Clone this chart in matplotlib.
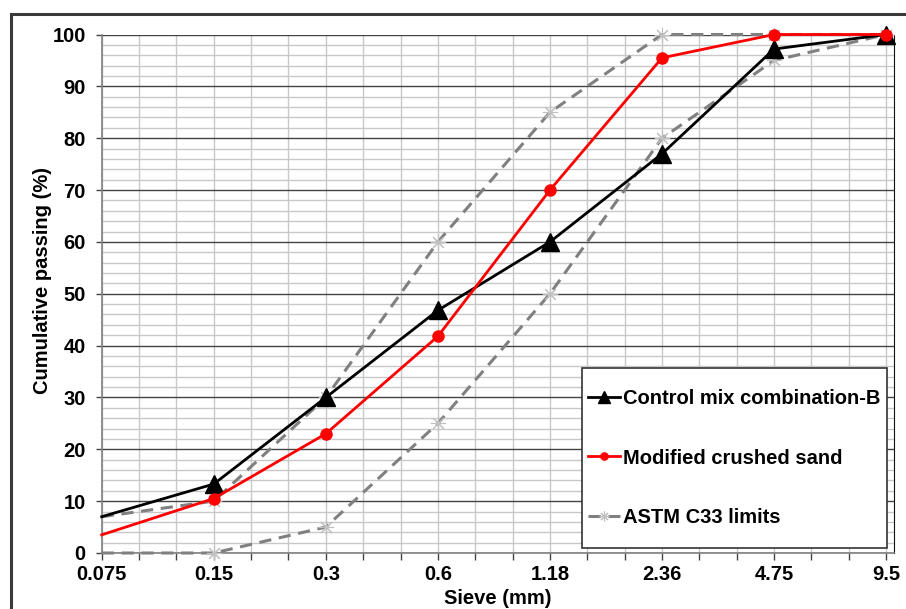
import numpy as np
import matplotlib.pyplot as plt
from matplotlib.patches import Rectangle

plt.rcParams['font.family'] = ['Liberation Sans', 'DejaVu Sans']
plt.rcParams['font.weight'] = 'bold'

# Sieve sizes (equally spaced categories)
sieves = ["0.075", "0.15", "0.3", "0.6", "1.18", "2.36", "4.75", "9.5"]

# Cumulative passing (%)
control_b = [7, 13.3, 30, 46.8, 60, 77, 97.2, 100]
modified_sand = [3.5, 10.5, 23, 41.8, 70, 95.5, 100, 100]
astm_upper = [7, 10, 30, 60, 85, 100, 100, 100]
astm_lower = [0, 0, 5, 25, 50, 80, 95, 100]

x = np.arange(len(sieves))
W, H = 906, 609

fig = plt.figure(figsize=(9.06, 6.09), dpi=100)
ax = fig.add_axes([101.7 / W, 56 / H, 792.3 / W, 518.5 / H])

# outer chart frame
fig.patches.append(Rectangle((11 / W, -0.05), 1.0, (H - 14) / H + 0.05,
                             transform=fig.transFigure, fill=False,
                             edgecolor="#3a3a3a", linewidth=2.2))

# grid
ax.set_xlim(0, 7.07)
ax.set_ylim(0, 100)
ax.set_xticks(x)
ax.set_xticklabels(sieves)
ax.set_xticks(np.arange(0, 7.01, 1 / 3), minor=True)
ax.set_yticks(np.arange(0, 101, 10))
ax.set_yticks(np.arange(0, 101, 2), minor=True)
ax.grid(which="minor", color="#c8c8c8", linewidth=1.0)
ax.grid(which="major", axis="x", color="#c8c8c8", linewidth=1.0)
ax.grid(which="major", axis="y", color="#444444", linewidth=1.0)
ax.set_axisbelow(True)

ax.tick_params(axis="y", which="major", length=4.5, width=1, color="#444444",
               labelsize=14.5, pad=7)
ax.tick_params(axis="y", which="minor", length=0)
ax.tick_params(axis="x", which="both", length=5, width=1, color="#444444",
               labelsize=14.5, pad=4)
for lab in ax.get_xticklabels() + ax.get_yticklabels():
    lab.set_fontweight("bold")

for s in ["left", "bottom"]:
    ax.spines[s].set_color("#808080")
    ax.spines[s].set_linewidth(1.2)
ax.spines["right"].set_color("#111111")
ax.spines["top"].set_visible(False)

star = (8, 2, 0)
ax.plot(x, astm_upper, color="#808080", linestyle=(0, (4, 2.5)), linewidth=2.2,
        marker=star, markersize=11, markeredgecolor="#c0c0c0",
        markeredgewidth=0.8, markevery=range(1, 8), label="ASTM C33 limits",
        clip_on=False, zorder=3)
ax.plot(x, astm_lower, color="#808080", linestyle=(0, (4, 2.5)), linewidth=2.2,
        marker=star, markersize=11, markeredgecolor="#c0c0c0",
        markeredgewidth=0.8, markevery=range(1, 8), clip_on=False, zorder=3)
ax.plot(x, control_b, color="black", linewidth=2, marker="^", markersize=13,
        markevery=range(1, 8), label="Control mix combination-B",
        clip_on=False, zorder=4)
ax.plot(x, modified_sand, color="red", linewidth=2, marker="o", markersize=8,
        markevery=range(1, 8), label="Modified crushed sand",
        clip_on=False, zorder=5)

# legend box drawn separately so the padding matches
box = Rectangle((582 / W, (H - 548) / H), 305 / W, 180 / H,
                transform=fig.transFigure, facecolor="white",
                edgecolor="#333333", linewidth=1.2, zorder=8, clip_on=False)
ax.add_patch(box)

handles, labels = ax.get_legend_handles_labels()
order = [1, 2, 0]
leg = ax.legend([handles[i] for i in order], [labels[i] for i in order],
                loc="center left", bbox_to_anchor=(586 / W, (H - 458) / H),
                bbox_transform=fig.transFigure,
                prop={"weight": "bold", "size": 14.5}, frameon=False,
                handlelength=1.6, handletextpad=0.15, labelspacing=2.0,
                borderpad=0.1, markerscale=0.65, borderaxespad=0)
leg.set_zorder(10)

fig.text(43 / W, 1 - 280 / H, "Cumulative passing (%)", rotation=90,
         ha="center", va="center", fontsize=14.5, fontweight="bold")
fig.text(498 / W, 1 - 598 / H, "Sieve (mm)", ha="center", va="center",
         fontsize=14.5, fontweight="bold")

fig.savefig("out.png", dpi=100)
